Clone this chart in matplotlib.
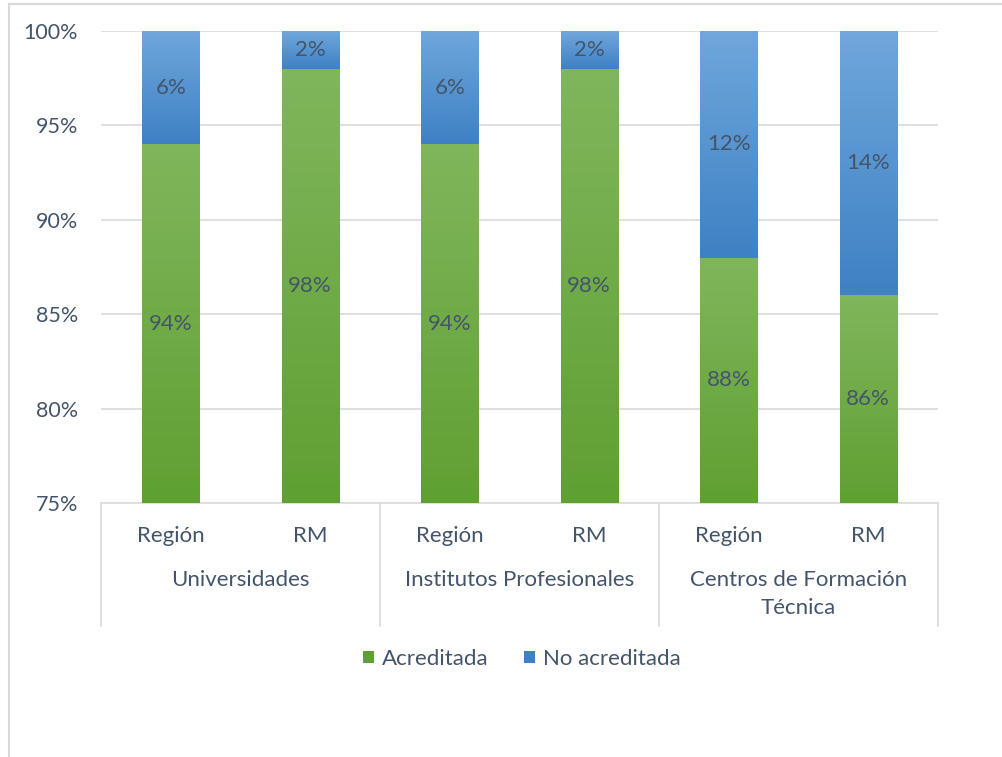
import numpy as np
import matplotlib.pyplot as plt
from matplotlib.colors import LinearSegmentedColormap
from matplotlib.lines import Line2D
from matplotlib.patches import Patch

# Data
groups = ["Universidades", "Institutos Profesionales", "Centros de Formación\nTécnica"]
subcats = ["Región", "RM", "Región", "RM", "Región", "RM"]
acreditada = [94, 98, 94, 98, 88, 86]
no_acreditada = [6, 2, 6, 2, 12, 14]
yticks = [75, 80, 85, 90, 95, 100]

TEXT = "#44546A"
GRID = "#D9D9D9"
GREEN_TOP, GREEN_BOT = "#80B65C", "#5FA032"
BLUE_TOP, BLUE_BOT = "#70A7DC", "#3E81C4"
FS = 16

plt.rcParams["font.family"] = ["Lato", "DejaVu Sans"]

fig = plt.figure(figsize=(10.03, 7.57), dpi=100)
W, H = 1003, 757
ax = fig.add_axes([101 / W, 1 - 503 / H, 837 / W, 472 / H])

x = np.arange(len(subcats))
width = 0.41
ymin, ymax = 75, 100

green_cmap = LinearSegmentedColormap.from_list("g", [GREEN_BOT, GREEN_TOP])
blue_cmap = LinearSegmentedColormap.from_list("b", [BLUE_BOT, BLUE_TOP])
grad = np.linspace(0, 1, 256).reshape(-1, 1)

bars_g = ax.bar(x, acreditada, width, color=GREEN_BOT, zorder=2)
bars_b = ax.bar(x, no_acreditada, width, bottom=acreditada, color=BLUE_BOT, zorder=2)

for bars, bottoms, vals, cmap in [
    (bars_g, [0] * len(x), acreditada, green_cmap),
    (bars_b, acreditada, no_acreditada, blue_cmap),
]:
    for i, (patch, b, v) in enumerate(zip(bars, bottoms, vals)):
        lo = max(b, ymin)
        hi = min(b + v, ymax)
        im = ax.imshow(grad, cmap=cmap, origin="lower", aspect="auto",
                       extent=(x[i] - width / 2, x[i] + width / 2, lo, hi), zorder=3)
        im.set_clip_path(patch)
        ax.text(x[i], (lo + hi) / 2, f"{v}%", ha="center", va="center",
                fontsize=FS, color=TEXT, zorder=4)

ax.set_xlim(-0.5, len(x) - 0.5)
ax.set_ylim(ymin, ymax)
ax.set_yticks(yticks)
ax.set_yticklabels([f"{t}%" for t in yticks])
ax.tick_params(axis="y", length=0, pad=16.5, labelsize=15.5, labelcolor=TEXT)
ax.set_xticks([])
for t in yticks[1:]:
    ax.axhline(t, color=GRID, linewidth=1.2, zorder=1)
for s in ["top", "right", "left"]:
    ax.spines[s].set_visible(False)
ax.spines["bottom"].set_color(GRID)
ax.spines["bottom"].set_linewidth(1.2)

# Multi-level category axis
trans = ax.get_xaxis_transform()
px = 1 / 472
for i, lab in enumerate(subcats):
    ax.text(x[i], -33 * px, lab, transform=trans, ha="center", va="center",
            fontsize=FS, color=TEXT)
for g, lab in enumerate(groups):
    ax.text(2 * g + 0.5, -67 * px, lab, transform=trans, ha="center", va="top",
            fontsize=FS, color=TEXT, linespacing=1.5)
for sep in [-0.5, 1.5, 3.5, 5.5]:
    ax.plot([sep, sep], [0, -123 * px], transform=trans, color=GRID,
            linewidth=1.2, clip_on=False)

# Legend
handles = [Patch(facecolor=GREEN_BOT, label="Acreditada"),
           Patch(facecolor=BLUE_BOT, label="No acreditada")]
fig.legend(handles=handles, loc="center", bbox_to_anchor=(522 / W, 1 - 659 / H),
           ncol=2, frameon=False, fontsize=FS, labelcolor=TEXT,
           handlelength=0.5, handleheight=0.5, handletextpad=0.35, columnspacing=1.6)

# Chart area border (left and top visible)
fig.add_artist(Line2D([9.5 / W, 9.5 / W], [0, 1 - 4 / H], color=GRID, linewidth=1.5,
                      transform=fig.transFigure))
fig.add_artist(Line2D([9.5 / W, 1], [1 - 4 / H, 1 - 4 / H], color=GRID, linewidth=1.5,
                      transform=fig.transFigure))

fig.savefig("out.png", dpi=100)
